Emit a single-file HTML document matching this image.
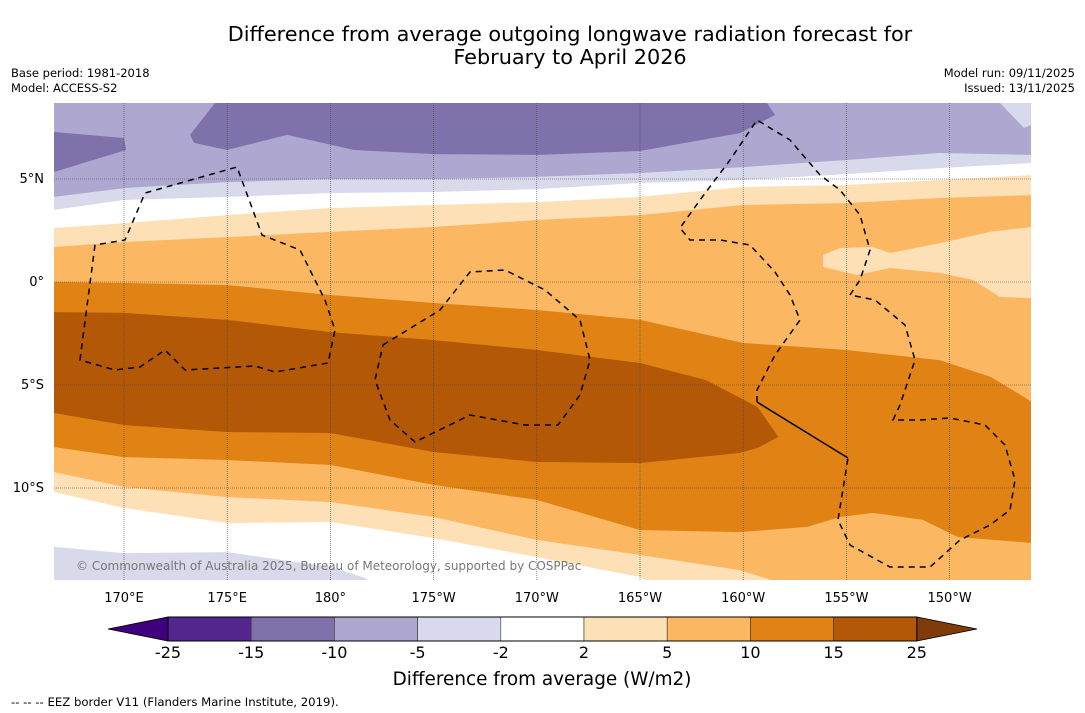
<!DOCTYPE html>
<html><head><meta charset="utf-8"><style>
html,body{margin:0;padding:0;background:#fff;width:1085px;height:713px;overflow:hidden}
svg{display:block;font-family:"DejaVu Sans","Liberation Sans",sans-serif}
</style></head><body>
<svg id="chart" width="1085" height="713" viewBox="0 0 1085 713" xmlns="http://www.w3.org/2000/svg">
<text x="570" y="41" font-size="20.8" text-anchor="middle">Difference from average outgoing longwave radiation forecast for</text>
<text x="570" y="64" font-size="20.8" text-anchor="middle">February to April 2026</text>
<text x="11" y="77" font-size="11.5">Base period: 1981-2018</text>
<text x="11" y="92" font-size="11.5">Model: ACCESS-S2</text>
<text x="1075" y="77" font-size="11.5" text-anchor="end">Model run: 09/11/2025</text>
<text x="1075" y="92" font-size="11.5" text-anchor="end">Issued: 13/11/2025</text>
<defs><clipPath id="mapclip"><rect x="54" y="103" width="977" height="477"/></clipPath></defs>
<g id="map" clip-path="url(#mapclip)"></g>
<g id="eez" fill="none" stroke="#000" stroke-width="1.5" stroke-dasharray="6,5" clip-path="url(#mapclip)">
<path d="M80,360 L95,245 L125,240 L145,193 L237,167 L262,235 L300,250 L325,300 L335,330 L328,363 L275,372 L255,366 L185,370 L165,350 L140,367 L115,370 Z"/>
<path d="M383,345 L440,310 L470,272 L505,270 L545,290 L580,320 L590,360 L580,395 L558,425 L525,425 L470,415 L415,442 L390,420 L375,380 Z"/>
<path d="M757,402 L757,390 L775,355 L800,320 L790,295 L775,272 L750,245 L720,240 L690,240 L680,228 L700,200 L730,160 L757,120 L790,140 L820,175 L840,190 L860,215 L870,250 L860,280 L850,295 L875,300 L905,325 L915,360 L900,405 L893,420 L920,420 L950,418 L985,425 L1005,445 L1015,480 L1010,510 L990,525 L960,540 L930,567 L890,567 L850,545 L838,520 L848,458"/>
<path d="M757,402 L848,458" stroke-dasharray="none"/>
</g>
<text x="76" y="570" font-size="12" fill="#777">© Commonwealth of Australia 2025, Bureau of Meteorology, supported by COSPPac</text>
<g id="axes"></g>
<g id="cbar"></g>
<text x="542" y="685" font-size="18.4" text-anchor="middle">Difference from average (W/m2)</text>
<text x="11" y="706" font-size="11.7">--  --  -- EEZ border V11 (Flanders Marine Institute, 2019).</text>
</svg>
<script>
// ---- data ----
const bandColors = ["#3f007d","#54278f","#7f72ab","#aea8d0","#d8d9ea","#ffffff","#fde0b6","#fbb761","#e08214","#b35806","#7f3b08"];
const levels = [-25,-15,-10,-5,-2,2,5,10,15,25];
const lonTicks = [170,175,180,185,190,195,200,205,210];
const lonTickLabels = ["170°E","175°E","180°","175°W","170°W","165°W","160°W","155°W","150°W"];
const latTicks = [5,0,-5,-10];
const latTickLabels = ["5°N","0°","5°S","10°S"];
const gridLons = [170,175,180,185,190,195,200,205,210];
const gridLats = [5,0,-5,-10];
// contour lines (fill below each line)
const nm5Lons = [166.6,170,175,180,185,190,195,200,205,209.5,214];
const nm5Lats = [4.13,4.56,4.85,5.0,5.0,5.10,5.29,5.58,5.92,6.26,6.17];
const nm2Lats = [3.50,3.98,4.13,4.32,4.37,4.51,4.81,4.95,5.24,5.53,5.78];
const n2Lats = [2.62,2.86,3.25,3.59,3.74,3.88,4.13,4.61,4.71,4.95,5.19];
const n5Lats = [1.70,1.94,2.18,2.43,2.67,3.01,3.25,3.74,3.83,4.08,4.22];
const n10Lons = [166.6,170,175,180,185,190,195,200,205,209.5,212,214];
const n10Lats = [0,-0.05,-0.15,-0.63,-1.02,-1.36,-1.84,-2.96,-3.30,-3.79,-4.61,-5.83];
const s10Lons = [166.6,170,175,180,185,190,195,199.8,203.1,204.7,206.3,208.7,210.4,214];
const s10Lats = [-8.01,-8.50,-8.64,-8.88,-9.85,-10.58,-12.04,-12.14,-11.89,-11.41,-11.21,-11.55,-12.38,-12.67];
const s5Lons = [166.6,170,175,180,185,190,195,199.8,201.4,202.8,214];
const s5Lats = [-9.22,-9.95,-10.44,-10.68,-11.41,-12.52,-13.25,-13.98,-14.47,-15.4,-16];
const s2Lons = [166.6,170,175,180,185,190,195,196,214];
const s2Lats = [-10.19,-10.97,-11.70,-11.65,-12.43,-13.35,-14.32,-14.95,-16];
const sm2Lons = [166.6,170,175,180,181.7,182.4,214];
const sm2Lats = [-12.86,-13.16,-13.11,-13.83,-14.37,-14.95,-16];
// closed regions
const purpleLons = [174.41,201.15,201.54,199.84,195.0,190.16,185.02,181.14,177.90,174.99,173.39,173.20];
const purpleLats = [8.69,8.69,8.11,7.23,6.36,6.17,6.21,6.41,7.14,6.41,6.75,7.14];
const purpleWLons = [166.6,170,170.1,166.6];
const purpleWLats = [7.28,6.99,6.41,5.34];
const paleNELons = [212.44,213.94,213.94,213.6];
const paleNELats = [8.69,8.69,7.62,7.48];
const peachLons = [203.87,204.69,206.29,207.11,209.53,211.96,213.94,213.94,212.44,211.13,209.53,207.11,205.51,203.87];
const peachLats = [1.31,1.65,1.70,1.41,1.89,2.43,2.67,-0.78,-0.73,0.10,0.44,0.68,0.34,0.73];
const brownNLons = [166.6,170,175,180,185,190,195,198.2,200.7,201.7];
const brownNLats = [-1.46,-1.50,-1.84,-2.43,-2.82,-3.30,-3.93,-4.76,-6.07,-7.52];
const brownSLons = [166.6,170,175,180,185,190,195,199.8,200.7];
const brownSLats = [-6.36,-6.94,-7.28,-7.33,-8.25,-8.74,-8.79,-8.30,-8.06];

// ---- axis functions ----
const NS = "http://www.w3.org/2000/svg";
function xs(lon){ return 124 + (lon-170)*20.64; }
function ys(lat){ return 282 - lat*20.6; }
function mk(tag, attrs, parent){ const e=document.createElementNS(NS,tag); for(const k in attrs) e.setAttribute(k,attrs[k]); parent.appendChild(e); return e; }
const map = document.getElementById("map");
function below(lons, lats, color, name){
  let pts = lons.map((l,i)=>xs(l).toFixed(1)+","+ys(lats[i]).toFixed(1));
  pts.push(xs(lons[lons.length-1])+",620", xs(lons[0])+",620");
  const p = mk("polygon",{points:pts.join(" "),fill:color},map);
  
  
}
function poly(lons, lats, color, name){
  const pts = lons.map((l,i)=>xs(l).toFixed(1)+","+ys(lats[i]).toFixed(1));
  const p = mk("polygon",{points:pts.join(" "),fill:color},map);
  
  
}
const bg = mk("rect",{x:54,y:103,width:977,height:477,fill:bandColors[3]},map);


poly(purpleLons, purpleLats, bandColors[2], "band-minus15-minus10-north");
poly(purpleWLons, purpleWLats, bandColors[2], "band-minus15-minus10-west");
below(nm5Lons, nm5Lats, bandColors[4], "band-minus5-minus2-north");
poly(paleNELons, paleNELats, bandColors[4], "band-minus5-minus2-northeast");
below(nm5Lons, nm2Lats, bandColors[5], "band-minus2-2-north");
below(nm5Lons, n2Lats, bandColors[6], "band-2-5-north");
below(nm5Lons, n5Lats, bandColors[7], "band-5-10-north");
poly(peachLons, peachLats, bandColors[6], "band-2-5-east-bubble");
below(n10Lons, n10Lats, bandColors[8], "band-10-15");
poly(brownNLons.concat(brownSLons.slice().reverse()), brownNLats.concat(brownSLats.slice().reverse()), bandColors[9], "band-15-25");
below(s10Lons, s10Lats, bandColors[7], "band-5-10-south");
below(s5Lons, s5Lats, bandColors[6], "band-2-5-south");
below(s2Lons, s2Lats, bandColors[5], "band-minus2-2-south");
below(sm2Lons, sm2Lats, bandColors[4], "band-minus5-minus2-south");
// gridlines
gridLons.forEach(l=>{ const g=mk("line",{x1:xs(l),x2:xs(l),y1:103,y2:580,stroke:"#444","stroke-width":0.6,"stroke-dasharray":"1,1"},map);
  
   });
gridLats.forEach(l=>{ const g=mk("line",{x1:54,x2:1031,y1:ys(l),y2:ys(l),stroke:"#444","stroke-width":0.6,"stroke-dasharray":"1,1"},map);
  
   });
// tick labels
const axes = document.getElementById("axes");
lonTicks.forEach((l,i)=>{ const t=mk("text",{x:xs(l),y:602,"font-size":13,"text-anchor":"middle"},axes); t.textContent=lonTickLabels[i];
  
   });
latTicks.forEach((l,i)=>{ const t=mk("text",{x:44,y:ys(l)+4,"font-size":13,"text-anchor":"end"},axes); t.textContent=latTickLabels[i];
  
   });
// colorbar
const cb = document.getElementById("cbar");
function cx(i){ return 168 + i*83.2; }
const tl = mk("polygon",{points:`${cx(0)},617 ${cx(0)},641 108,629`,fill:bandColors[0],stroke:"#000","stroke-width":0.8},cb);


const tr = mk("polygon",{points:`${cx(9)},617 ${cx(9)},641 977,629`,fill:bandColors[10],stroke:"#000","stroke-width":0.8},cb);


for(let i=0;i<levels.length-1;i++){
  const r = mk("rect",{x:cx(i),y:617,width:83.2,height:24,fill:bandColors[i+1],stroke:"#333","stroke-width":0.6},cb);
  
  
}
const fr = mk("rect",{x:cx(0),y:617,width:cx(9)-cx(0),height:24,fill:"none",stroke:"#000","stroke-width":1},cb);


levels.forEach((v,i)=>{ const t=mk("text",{x:cx(i),y:658,"font-size":16,"text-anchor":"middle"},cb); t.textContent=String(v);
  
   });
</script>
</body></html>
